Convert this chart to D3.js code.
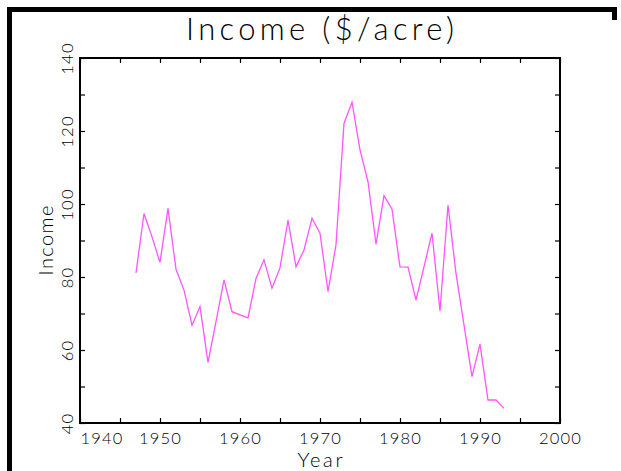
<!DOCTYPE html>
<html><head><meta charset="utf-8">
<script src="https://cdn.jsdelivr.net/npm/d3@7"></script>
<style>
html,body{margin:0;padding:0;background:#fff;}
svg{display:block;}
text{font-family:"Lato","DejaVu Sans",sans-serif;font-weight:300;fill:#000;}
</style></head>
<body>
<svg id="c" width="621" height="471"></svg>
<script>
const years = [1947,1948,1949,1950,1951,1952,1953,1954,1955,1956,1957,1958,1959,1960,1961,1962,1963,1964,1965,1966,1967,1968,1969,1970,1971,1972,1973,1974,1975,1976,1977,1978,1979,1980,1981,1982,1983,1984,1985,1986,1987,1988,1989,1990,1991,1992,1993];
const income = [81.1,97.4,91,84,98.8,82.1,76.4,66.8,71.9,56.6,67.8,79.2,70.5,69.6,68.8,79.6,84.7,76.9,82.5,95.6,82.8,87.4,96.1,92,76,88.8,122.1,127.9,114.8,106.1,89,102.3,98.6,82.8,82.7,73.7,82.8,92,70.7,99.7,81,66.8,52.7,61.6,46.3,46.3,44];
const xTicks = [1940,1945,1950,1955,1960,1965,1970,1975,1980,1985,1990,1995,2000];
const xLabels = [1940,1950,1960,1970,1980,1990,2000];
const yTicks = [40,50,60,70,80,90,100,110,120,130,140];
const yLabels = [40,60,80,100,120,140];
const title = "Income ($/acre)";
const xTitle = "Year";
const yTitle = "Income";

const svg = d3.select("#c");
const L=80,R=560,T=58,B=423;
const x = d3.scaleLinear().domain([1940,2000]).range([L,R]);
const y = d3.scaleLinear().domain([40,140]).range([B,T]);

// outer frame
svg.append("rect").attr("x",7).attr("y",7).attr("width",5).attr("height",464).attr("fill","#000");
svg.append("rect").attr("x",7).attr("y",7).attr("width",610).attr("height",5).attr("fill","#000");
svg.append("rect").attr("x",612).attr("y",7).attr("width",5).attr("height",13).attr("fill","#000");

// ticks
const fmtX = d => xLabels.includes(d) ? String(d) : "";
const fmtY = d => yLabels.includes(d) ? String(d) : "";
const gb = svg.append("g").attr("transform",`translate(0,${B})`)
  .call(d3.axisBottom(x).tickValues(xTicks).tickSizeInner(-5).tickSizeOuter(0).tickFormat(fmtX));
const gt = svg.append("g").attr("transform",`translate(0,${T})`)
  .call(d3.axisTop(x).tickValues(xTicks).tickSizeInner(-5).tickSizeOuter(0).tickFormat(""));
const gl = svg.append("g").attr("transform",`translate(${L},0)`)
  .call(d3.axisLeft(y).tickValues(yTicks).tickSizeInner(-5).tickSizeOuter(0).tickFormat(fmtY));
const gr = svg.append("g").attr("transform",`translate(${R},0)`)
  .call(d3.axisRight(y).tickValues(yTicks).tickSizeInner(-5).tickSizeOuter(0).tickFormat(""));
[gb,gt,gl,gr].forEach(g=>{
  g.select(".domain").remove();
  g.selectAll(".tick line").attr("stroke","#000").attr("stroke-width",1.2);
});
gb.selectAll(".tick text").attr("dy",null).attr("y",21).attr("font-size",16.5)
  .attr("font-family","Lato, DejaVu Sans, sans-serif").attr("font-weight",300)
  .attr("letter-spacing",1.2)
  .attr("text-anchor",d=> d===1940 ? "start" : "middle");
gl.selectAll(".tick text").attr("dy",null).attr("x",null)
  .attr("transform",`translate(-7,0) rotate(-90)`).attr("text-anchor","middle")
  .attr("letter-spacing",1.2)
  .attr("font-size",16.5).attr("font-family","Lato, DejaVu Sans, sans-serif").attr("font-weight",300);

// plot box
svg.append("rect").attr("x",L).attr("y",T).attr("width",R-L).attr("height",B-T)
  .attr("fill","none").attr("stroke","#000").attr("stroke-width",2);

// line
const data = years.map((yr,i)=>({yr,v:income[i]}));
svg.append("path").datum(data)
  .attr("fill","none").attr("stroke","#ff55ff").attr("stroke-width",1.3)
  .attr("d", d3.line().x(d=>x(d.yr)).y(d=>y(d.v)));

// titles
svg.append("text").attr("x",(L+R)/2).attr("y",40).attr("text-anchor","middle")
  .attr("font-size",31).attr("textLength",268).attr("lengthAdjust","spacing").text(title);
svg.append("text").attr("x",(L+R)/2).attr("y",467).attr("text-anchor","middle")
  .attr("font-size",20).attr("textLength",45).attr("lengthAdjust","spacing").text(xTitle);
svg.append("text").attr("transform",`translate(53,${(T+B)/2}) rotate(-90)`).attr("text-anchor","middle")
  .attr("font-size",20).attr("textLength",70).attr("lengthAdjust","spacing").text(yTitle);
</script>
</body></html>
